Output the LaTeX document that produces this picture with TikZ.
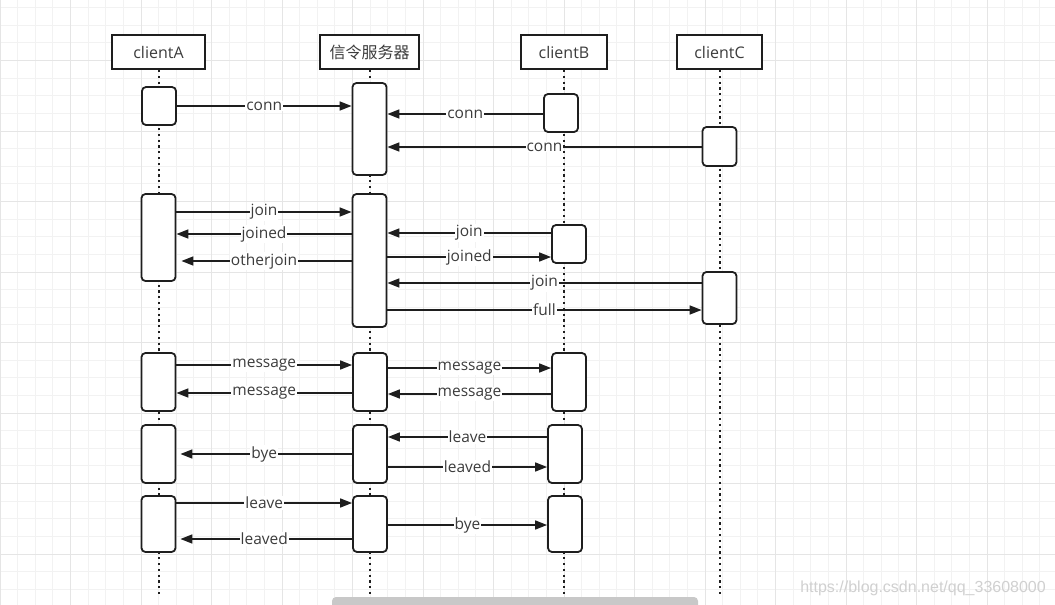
\documentclass[tikz,border=0pt]{standalone}
\usepackage{fontspec}
\setmainfont{Open Sans}
\newfontfamily\cjkfont{Noto Sans CJK SC}
\newfontfamily\urlfont{Liberation Sans}
\usetikzlibrary{arrows.meta}

\definecolor{gridminor}{HTML}{F2F2F2}
\definecolor{gridmajor}{HTML}{E5E5E5}
\definecolor{labelgray}{HTML}{3C3C3C}
\definecolor{linedark}{HTML}{1E1E1E}
\definecolor{markgray}{HTML}{D0D0D0}
\definecolor{bargray}{HTML}{C8C8C8}

\begin{document}
\begin{tikzpicture}[x=1pt,y=-1pt,
    head/.style={draw=linedark,line width=2pt,fill=white,minimum height=34pt,
      inner sep=0pt,text=labelgray,font=\fontsize{16}{19}\selectfont},
    act/.style={draw=linedark,line width=1.8pt,fill=white,rounded corners=4pt,
      minimum width=34pt,inner sep=0pt},
    lifeline/.style={linedark,line width=2pt,dash pattern=on 2.2pt off 3.6pt},
    msg/.style={draw=linedark,line width=1.5pt,-{Triangle[length=12pt,width=9pt]}},
    msglabel/.style={fill=white,inner sep=1pt,text=labelgray,font=\fontsize{15.5}{18}\selectfont}]

      \useasboundingbox (0,0) rectangle (1055,605);
      \fill[white] (0,0) rectangle (1055,605);

      % background grid
      \foreach \i in {0,...,60}
        \draw[gridminor,line width=0.8pt] (\i*17.625,0) -- (\i*17.625,605);
      \foreach \j in {0,...,34}
        \draw[gridminor,line width=0.8pt] (0,7.6+\j*17.625) -- (1055,7.6+\j*17.625);
      \foreach \i in {0,...,15}
        \draw[gridmajor,line width=0.9pt] (\i*70.5,0) -- (\i*70.5,605);
      \foreach \j in {0,...,9}
        \draw[gridmajor,line width=0.9pt] (0,-10+\j*70.5) -- (1055,-10+\j*70.5);

      \begin{scope}[every node/.style={head}]
        \node[minimum width=93pt] (A) at (158.5,52) {clientA};
        \node[minimum width=99pt] (S) at (369.5,52) {\cjkfont 信令服务器};
        \node[minimum width=86pt] (B) at (564,52) {clientB};
        \node[minimum width=85pt] (C) at (719.5,52) {clientC};
      \end{scope}

      \draw[lifeline] (A.south) -- (A.south |- 0,595);
      \draw[lifeline] (S.south) -- (S.south |- 0,595);
      \draw[lifeline] (B.south) -- (B.south |- 0,595);
      \draw[lifeline] (C.south) -- (C.south |- 0,595);

      \begin{scope}[every node/.style={act}]
        \node[minimum height=38pt] (a1) at (159,106) {};
        \node[minimum height=92pt] (s1) at (369.5,129) {};
        \node[minimum height=38pt] (b1) at (561,113) {};
        \node[minimum height=39pt] (c1) at (719.5,146.5) {};

        \node[minimum height=87pt] (a2) at (158.5,237.5) {};
        \node[minimum height=133pt] (s2) at (369.5,260.5) {};
        \node[minimum height=38pt] (b2) at (569,244) {};
        \node[minimum height=52pt] (c2) at (719.5,298) {};

        \node[minimum height=58pt] (a3) at (158.5,382) {};
        \node[minimum height=58pt] (s3) at (370,382) {};
        \node[minimum height=58pt] (b3) at (569,382) {};

        \node[minimum height=58pt] (a4) at (158.5,454) {};
        \node[minimum height=58pt] (s4) at (370,454) {};
        \node[minimum height=58pt] (b4) at (565,454) {};

        \node[minimum height=56pt] (a5) at (158.5,524) {};
        \node[minimum height=56pt] (s5) at (370,524) {};
        \node[minimum height=56pt] (b5) at (565,524) {};
      \end{scope}

      \begin{scope}[every node/.style={msglabel}]

        \begin{scope}[every edge/.style={msg}]
          \path (a1.east |- 0,106) edge node {conn} (s1.west |- 0,106);
          \path (b1.west |- 0,114) edge node {conn} (s1.east |- 0,114);
          \path (c1.west |- 0,147) edge node {conn} (s1.east |- 0,147);

          \path (a2.east |- 0,212) edge node {join} (s2.west |- 0,212);
          \path (s2.west |- 0,234) edge node {joined} (a2.east |- 0,234);
          \path (s2.west |- 0,261) edge[shorten >=5pt] node {otherjoin} (a2.east |- 0,261);
          \path (b2.west |- 0,233) edge node {join} (s2.east |- 0,233);
          \path (s2.east |- 0,257) edge node {joined} (b2.west |- 0,257);
          \path (c2.west |- 0,283) edge node {join} (s2.east |- 0,283);
          \path (s2.east |- 0,310) edge node {full} (c2.west |- 0,310);

          \path (a3.east |- 0,365) edge node {message} (s3.west |- 0,365);
          \path (s3.west |- 0,393) edge node {message} (a3.east |- 0,393);
          \path (s3.east |- 0,368) edge node {message} (b3.west |- 0,368);
          \path (b3.west |- 0,394) edge node {message} (s3.east |- 0,394);

          \path (s4.west |- 0,454) edge[shorten >=4pt] node {bye} (a4.east |- 0,454);
          \path (b4.west |- 0,437) edge node {leave} (s4.east |- 0,437);
          \path (s4.east |- 0,467) edge node {leaved} (b4.west |- 0,467);

          \path (a5.east |- 0,503) edge node {leave} (s5.west |- 0,503);
          \path (s5.west |- 0,539) edge[shorten >=4pt] node {leaved} (a5.east |- 0,539);
          \path (s5.east |- 0,525) edge node {bye} (b5.west |- 0,525);
        \end{scope}

      \end{scope}

      \node[anchor=east,inner sep=0pt,text=markgray,font=\urlfont\fontsize{16}{18}\selectfont]
        (mark) at (1046,588) {https://blog.csdn.net/qq\_33608000};
      \fill[bargray,rounded corners=4pt] (332,597) rectangle (698,612);

    \end{tikzpicture}
\end{document}
